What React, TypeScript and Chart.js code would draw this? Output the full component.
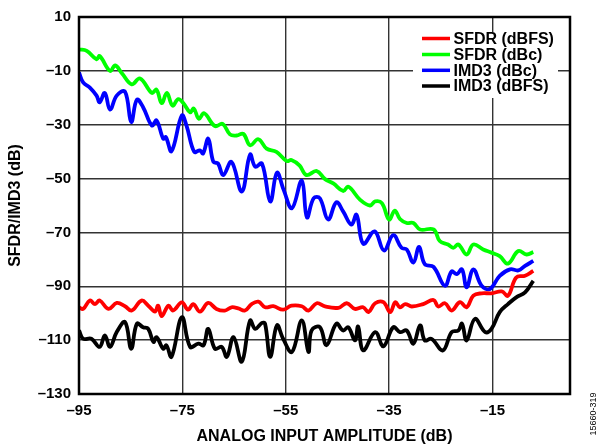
import React, { useEffect, useRef } from 'react';
import { Chart, registerables } from 'chart.js';

Chart.register(...registerables);

const FONT = '"Liberation Sans", Arial, Helvetica, sans-serif';

const seriesLabels = ['SFDR (dBFS)', 'SFDR (dBc)', 'IMD3 (dBc)', 'IMD3 (dBFS)'];
const seriesColors = ['#ff0000', '#00ff00', '#0000ff', '#000000'];
const xTickValues = [-95, -75, -55, -35, -15];
const yTickValues = [10, -10, -30, -50, -70, -90, -110, -130];

// SFDR (dBFS) - red
const sfdrDbfsX = [-95, -94.2, -92.9, -91.9, -91, -89.3, -87.7, -86.1, -84.8, -82.9, -81.6, -80.3, -79.7, -79, -77.7, -76.8, -75.1, -73.9, -72.9, -71.6, -70, -68.4, -66.8, -65.5, -64.2, -62.9, -61.6, -60.3, -59, -57.4, -55.5, -53.9, -51.9, -50.6, -49, -47.4, -44.8, -43.2, -41.6, -40, -39, -37.7, -36.1, -34.8, -33.8, -32.9, -31.9, -30.6, -28.4, -26.4, -25.5, -24.2, -22.9, -21.3, -20, -18.7, -17.1, -15.2, -13.2, -12, -10.4, -8.7, -7.1];
const sfdrDbfsY = [-97.8, -98.4, -95.3, -96.6, -95.3, -98.4, -96.2, -97.4, -99, -95.3, -97.2, -99.4, -97.2, -101.1, -97.2, -99, -96, -98.7, -96.6, -99.4, -96.2, -98.4, -99, -97.8, -98.2, -99, -96.6, -95.7, -97.8, -97.4, -98.7, -97.2, -97.4, -99, -96.3, -97.5, -98, -96.3, -98.4, -97.8, -99.6, -96.3, -95.9, -99.6, -95.9, -97.8, -96.6, -97.5, -96.6, -95.1, -97.5, -96.3, -99, -95.9, -97.8, -93.5, -92.6, -92.6, -91.9, -93.5, -86.7, -86.1, -84.3];

// SFDR (dBc) - green
const sfdrDbcX = [-95, -93.5, -91.6, -91, -89, -88, -86.7, -84.8, -83.2, -80.9, -80, -79, -78, -76.9, -75.8, -74.8, -73.5, -72.8, -71.8, -70.8, -68.7, -67.2, -65.8, -64.5, -63.2, -61.9, -60.3, -58.7, -56.8, -54.8, -53.9, -52.3, -51, -49, -47.4, -45.8, -43.9, -42.9, -40.6, -38.7, -37.7, -36.4, -35, -33.9, -32.9, -31.6, -30.3, -29, -26.4, -25.2, -23.6, -22.6, -21.6, -20, -18.7, -16.8, -15.2, -13.6, -12, -10, -8.4, -7.1];
const sfdrDbcY = [-2, -2.6, -5.7, -4.5, -10, -8, -10.9, -15, -12.8, -18.2, -17, -22, -18.2, -22.9, -20.5, -22, -25.4, -24, -27.8, -25.7, -30.5, -29.7, -33.6, -34, -33.4, -37.6, -35.4, -38.9, -40.1, -43.5, -43.1, -45.2, -48.7, -47.2, -50.2, -51.8, -54.6, -53, -57.9, -60, -58.5, -59.1, -65.2, -61.9, -65, -66.5, -66.5, -68.9, -68.9, -73.2, -74.5, -75.7, -74.5, -78.2, -74.5, -76.3, -77.5, -78.8, -81.6, -76.9, -78.2, -77.3];

// IMD3 (dBc) - blue
const imd3DbcX = [-95, -94.2, -92.9, -91.6, -91, -90, -89, -87.7, -86.1, -84.9, -83.8, -82.6, -80.9, -80, -78.7, -78.2, -77.1, -75.1, -74.2, -72.7, -71.6, -71, -70, -69, -68.1, -67.1, -65.5, -63.5, -61.9, -60.9, -59.6, -58, -56.7, -55.4, -53.8, -51.9, -50.9, -49.6, -48.4, -46.8, -45.2, -43.9, -42.3, -41.3, -40, -37.8, -36, -34.2, -32.6, -31.6, -30.3, -29.2, -28.1, -26.4, -24.2, -22.9, -21.9, -20.9, -20, -18.7, -17.1, -15.5, -13.6, -11.6, -10, -8.7, -7.1];
const imd3DbcY = [-10.6, -14.3, -16.2, -19.2, -21.7, -18.2, -24.4, -19.2, -17.7, -29, -20.7, -23.5, -30.3, -28.4, -35.2, -34.6, -39.8, -26.6, -30.3, -40.1, -39.5, -40.7, -35.2, -43.8, -44.4, -48.7, -43.8, -54.8, -41.1, -45.6, -44.4, -58.5, -47.8, -54.2, -61, -50.8, -64.4, -57.3, -57.3, -65.2, -58.8, -62.2, -67.1, -63.4, -74.2, -69.6, -76.7, -71, -75.7, -76.3, -81.2, -75.4, -81.8, -82.8, -89.8, -84.5, -85.5, -83.7, -90.4, -83.7, -89.8, -91, -86.1, -83.7, -84.1, -82.4, -80.6];

// IMD3 (dBFS) - black
const imd3DbfsX = [-95, -94.2, -92.6, -91, -90, -89, -87.7, -86.1, -84.9, -83.8, -82.6, -81.6, -80.6, -80, -78.7, -78.1, -77.1, -75.1, -73.5, -71.9, -70.9, -70, -68.7, -67.4, -66.4, -65.1, -63.5, -61.9, -60.9, -59.6, -59, -58, -56.7, -55.5, -53.8, -51.9, -50.6, -50, -48.4, -47.1, -45.2, -43.9, -42.9, -41.6, -41, -40, -37.7, -36.1, -34.2, -32.9, -31.6, -30.3, -29, -28.1, -26.8, -24.6, -22.9, -21.6, -20.9, -20, -18.4, -16.4, -15.2, -13.6, -12, -10.4, -8.7, -7.1];
const imd3DbfsY = [-106.4, -109.5, -109.5, -112.5, -108.2, -112.5, -107, -103.3, -113.2, -103.9, -105.2, -105.8, -110.7, -108.9, -113.2, -111.9, -116.2, -101.5, -112.5, -111.3, -111.9, -105.8, -113.2, -112.5, -116.2, -108.9, -118, -102.7, -105.8, -103.6, -103.9, -116.2, -104.5, -109.5, -114.4, -102.7, -114.4, -106.4, -105.2, -111.9, -103.9, -106.4, -105.2, -110.1, -104.9, -113.8, -107, -112.3, -105.2, -107, -106.4, -111.3, -104.5, -110.1, -109.5, -113.8, -107, -106.4, -103.9, -110.1, -102.1, -107, -105.8, -99.6, -96.6, -94.1, -92.3, -88];

const seriesX = [sfdrDbfsX, sfdrDbcX, imd3DbcX, imd3DbfsX];
const seriesY = [sfdrDbfsY, sfdrDbcY, imd3DbcY, imd3DbfsY];

const fmt = (v: number) => (v < 0 ? '\u2013' + Math.abs(v) : String(v));

const frameAndLegend = {
  id: 'frameAndLegend',
  beforeDatasetsDraw(chart: any) {
    const { ctx } = chart;
    ctx.save();
    ctx.fillStyle = '#ffffff';
    ctx.fillRect(413, 32, 145, 66);
    ctx.restore();
  },
  afterDatasetsDraw(chart: any) {
    const { ctx, chartArea } = chart;
    ctx.save();
    ctx.strokeStyle = '#000';
    ctx.lineWidth = 2.5;
    ctx.strokeRect(chartArea.left, chartArea.top, chartArea.right - chartArea.left, chartArea.bottom - chartArea.top);
    const rows = [38.5, 54.5, 70.3, 86];
    chart.data.datasets.forEach((ds: any, i: number) => {
      const y = rows[i];
      ctx.strokeStyle = ds.borderColor;
      ctx.lineWidth = 3.5;
      ctx.beginPath();
      ctx.moveTo(422, y);
      ctx.lineTo(450, y);
      ctx.stroke();
      ctx.fillStyle = '#000';
      ctx.font = `bold 16px ${FONT}`;
      ctx.textAlign = 'left';
      ctx.textBaseline = 'middle';
      ctx.fillText(ds.label, 453.5, y + 1);
    });
    ctx.translate(594, 414);
    ctx.rotate(-Math.PI / 2);
    ctx.font = `9px ${FONT}`;
    ctx.textAlign = 'center';
    ctx.textBaseline = 'middle';
    ctx.fillStyle = '#000';
    ctx.fillText('15660-319', 0, 0);
    ctx.restore();
  },
};

export default function App() {
  const ref = useRef<HTMLCanvasElement | null>(null);

  useEffect(() => {
    if (!ref.current) return;
    const datasets = seriesLabels.map((label, i) => ({
      label,
      data: seriesX[i].map((x, j) => ({ x, y: seriesY[i][j] })),
      borderColor: seriesColors[i],
      backgroundColor: seriesColors[i],
      borderWidth: 3.8,
      pointRadius: 0,
      tension: 0.4,
      fill: false,
    }));
    const tickFont = { family: FONT, size: 15, weight: 'bold' as const };
    const chart = new Chart(ref.current, {
      type: 'line',
      data: { datasets },
      plugins: [frameAndLegend],
      options: {
        responsive: false,
        animation: false,
        devicePixelRatio: 1,
        layout: { padding: { top: 14, right: 30, left: 0, bottom: 0 } },
        plugins: { legend: { display: false }, tooltip: { enabled: false } },
        scales: {
          x: {
            type: 'linear',
            min: -95,
            max: 0,
            afterBuildTicks: (s: any) => {
              s.ticks = xTickValues.map((v) => ({ value: v }));
            },
            afterFit: (s: any) => {
              s.height = 52;
            },
            grid: { color: '#333', lineWidth: 1.4, drawTicks: false },
            border: { display: false },
            ticks: {
              padding: 8,
              color: '#000',
              font: tickFont,
              autoSkip: false,
              maxRotation: 0,
              callback: (v: any) => fmt(Number(v)),
            },
            title: {
              display: true,
              text: 'ANALOG INPUT AMPLITUDE (dB)',
              color: '#000',
              font: { family: FONT, size: 16, weight: 'bold' },
              padding: { top: 0, bottom: 0 },
            },
          },
          y: {
            type: 'linear',
            min: -130,
            max: 10,
            afterBuildTicks: (s: any) => {
              s.ticks = yTickValues.map((v) => ({ value: v }));
            },
            afterFit: (s: any) => {
              s.width = 79;
            },
            grid: { color: '#333', lineWidth: 1.4, drawTicks: false },
            border: { display: false },
            ticks: {
              padding: 8,
              color: '#000',
              font: tickFont,
              autoSkip: false,
              callback: (v: any) => fmt(Number(v)),
            },
            title: {
              display: true,
              text: 'SFDR/IMD3 (dB)',
              color: '#000',
              font: { family: FONT, size: 16, weight: 'bold' },
              padding: { top: 6, bottom: 0 },
            },
          },
        },
      },
    });
    return () => chart.destroy();
  }, []);

  return (
    <div style={{ position: 'fixed', left: 0, top: 0, width: 600, height: 446, background: '#fff' }}>
      <canvas ref={ref} width={600} height={446} style={{ display: 'block', width: 600, height: 446 }} />
    </div>
  );
}
